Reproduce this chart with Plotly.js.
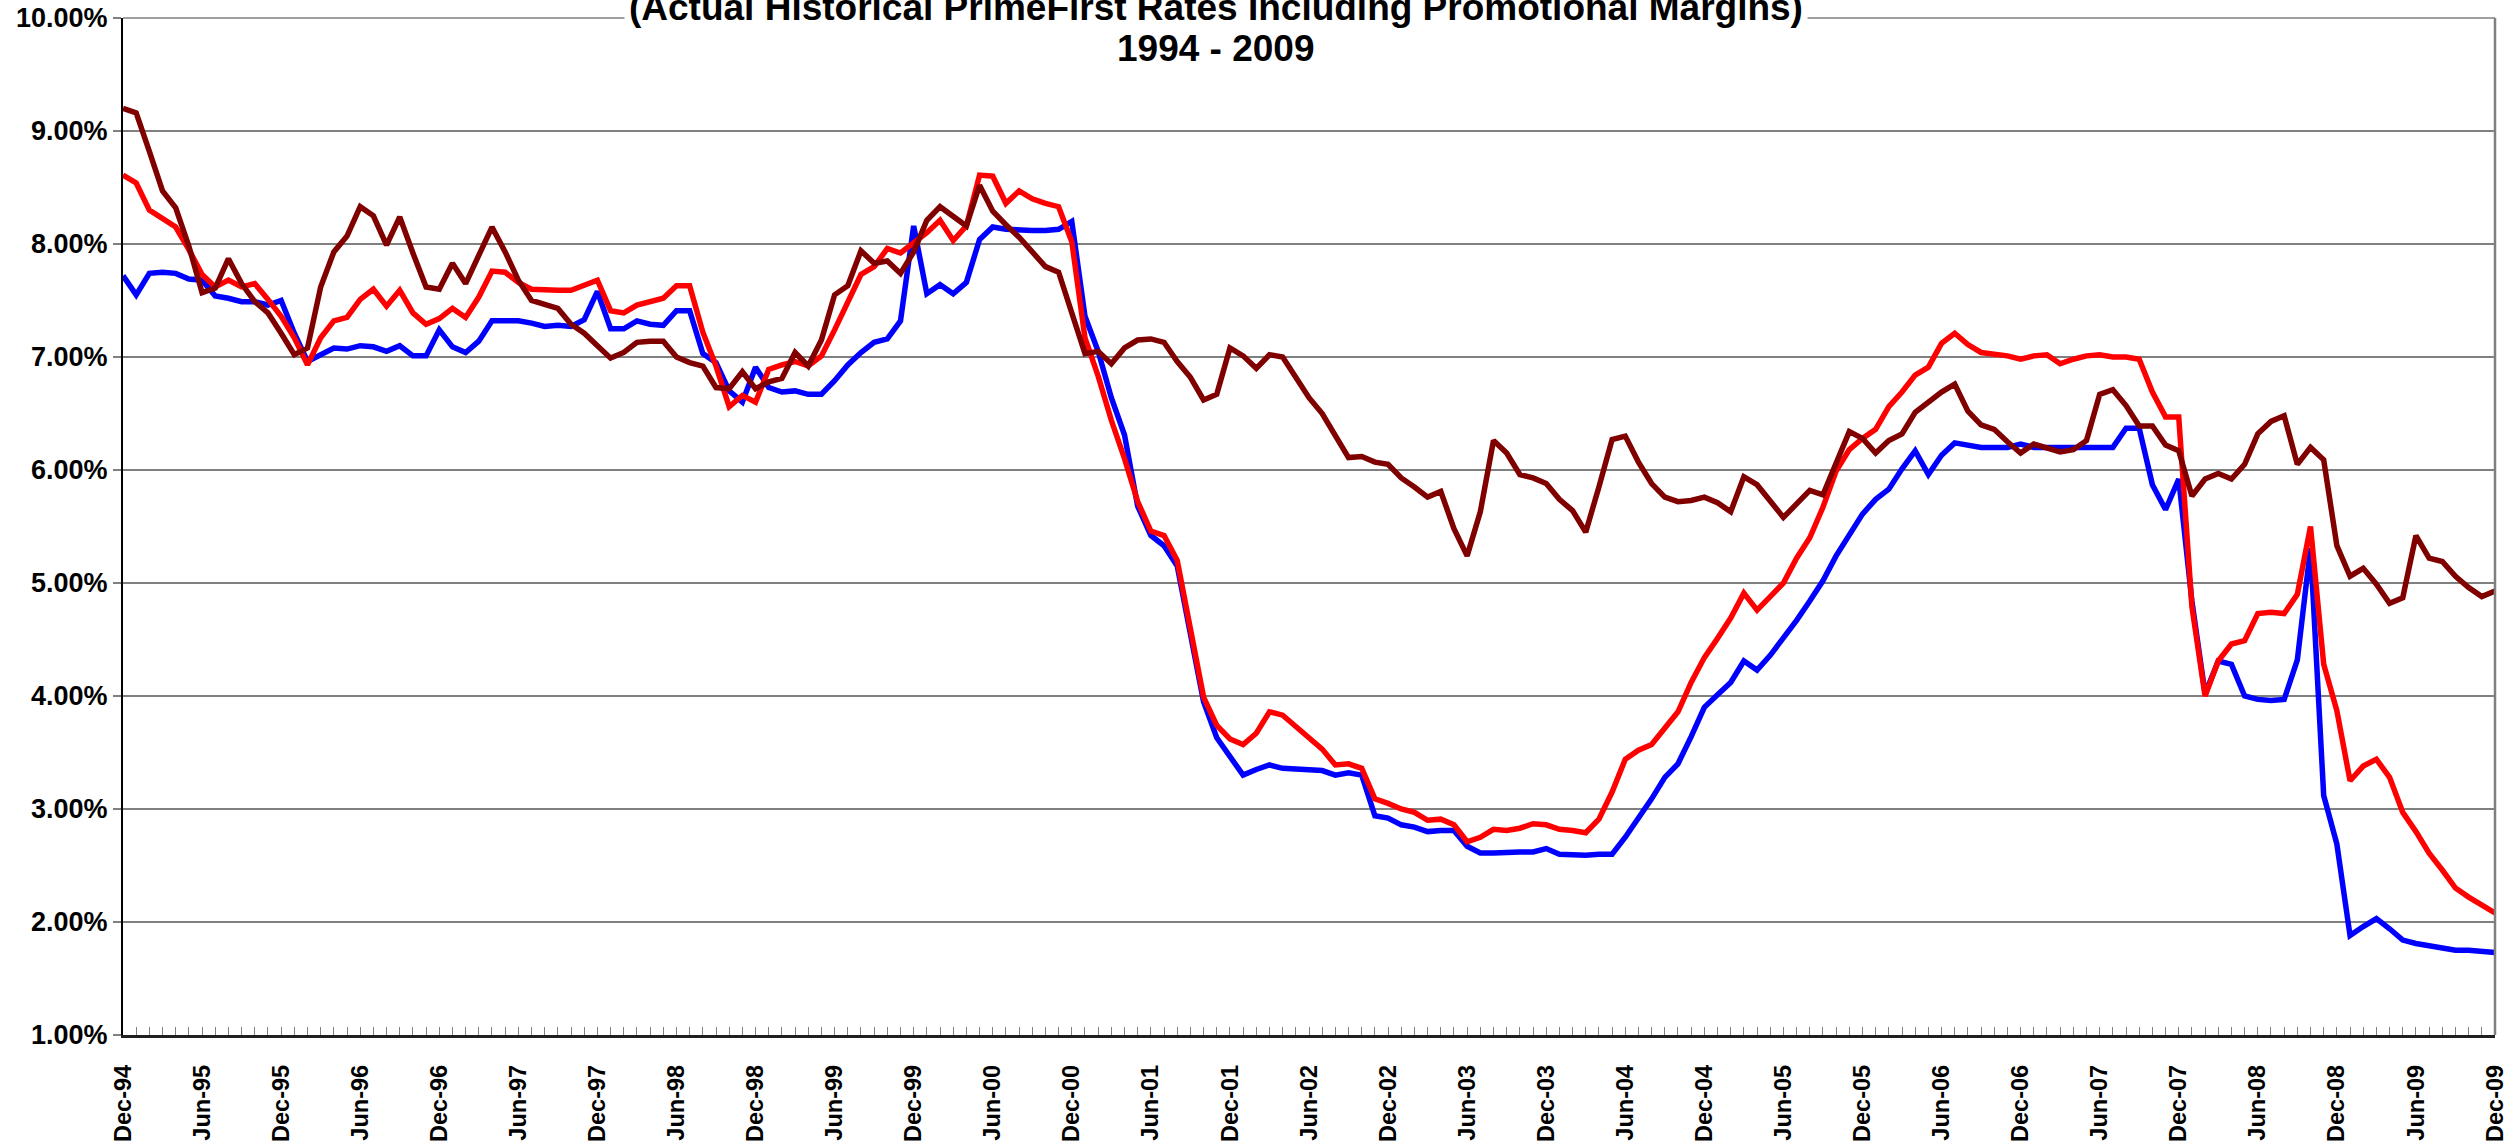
<!DOCTYPE html>
<html>
<head>
<meta charset="utf-8">
<script src="https://cdn.plot.ly/plotly-3.0.1.min.js"></script>
<style>html,body{margin:0;padding:0;background:#fff;}#chart{width:2518px;height:1146px;}</style>
</head>
<body>
<div id="chart"></div>
<script>
// Monthly categories Dec-94 .. Dec-09 (181 months)
const monthNames = ["Jan","Feb","Mar","Apr","May","Jun","Jul","Aug","Sep","Oct","Nov","Dec"];
const months = [];
for (let y = 1994; y <= 2009; y++) {
  for (let m = 0; m < 12; m++) {
    if (y === 1994 && m < 11) continue;
    months.push(monthNames[m] + "-" + String(y % 100).padStart(2, "0"));
  }
}

const seriesBlue = [
7.72,7.55,7.74,7.75,7.74,7.69,7.68,7.54,7.52,7.49,7.49,7.46,7.50,7.21,6.96,7.02,7.08,7.07,7.10,7.09,
7.05,7.10,7.01,7.01,7.24,7.09,7.04,7.14,7.32,7.32,7.32,7.30,7.27,7.28,7.27,7.33,7.58,7.25,7.25,7.32,
7.29,7.28,7.41,7.41,7.03,6.95,6.70,6.60,6.91,6.73,6.69,6.70,6.67,6.67,6.79,6.93,7.04,7.13,7.16,7.32,
8.16,7.56,7.64,7.56,7.66,8.04,8.15,8.13,8.12,8.12,8.12,8.13,8.20,7.36,7.05,6.64,6.31,5.68,5.42,5.33,
5.15,4.57,3.95,3.63,3.46,3.30,3.35,3.39,3.36,3.35,3.34,3.34,3.30,3.32,3.30,2.94,2.92,2.86,2.84,2.80,
2.81,2.81,2.67,2.61,2.61,2.62,2.62,2.62,2.65,2.60,2.59,2.59,2.60,2.60,2.75,2.91,3.09,3.28,3.40,3.64,
3.90,4.01,4.12,4.31,4.23,4.36,4.51,4.67,4.84,5.02,5.24,5.42,5.61,5.74,5.83,6.01,6.17,5.96,6.13,6.24,
6.22,6.20,6.20,6.20,6.23,6.20,6.20,6.20,6.20,6.20,6.20,6.20,6.37,6.37,5.87,5.65,5.92,4.84,4.02,4.31,
4.28,4.00,3.97,3.96,3.97,4.32,5.31,3.12,2.69,1.88,1.96,2.03,1.94,1.84,1.81,1.79,1.77,1.75,1.75,1.74,
1.73];

const seriesRed = [
8.61,8.54,8.30,8.22,8.15,7.95,7.73,7.62,7.68,7.62,7.65,7.51,7.36,7.17,6.93,7.17,7.32,7.35,7.51,7.60,
7.45,7.59,7.39,7.29,7.34,7.43,7.35,7.53,7.76,7.75,7.66,7.60,7.59,7.59,7.59,7.63,7.68,7.41,7.39,7.46,
7.49,7.52,7.63,7.63,7.22,6.92,6.56,6.66,6.60,6.89,6.93,6.96,6.92,7.01,7.24,7.49,7.73,7.80,7.96,7.92,
8.01,8.10,8.21,8.03,8.16,8.61,8.60,8.36,8.47,8.40,8.36,8.33,8.02,7.17,6.83,6.44,6.10,5.72,5.46,5.42,
5.20,4.61,3.99,3.74,3.62,3.57,3.67,3.86,3.83,3.73,3.63,3.53,3.39,3.40,3.36,3.09,3.05,3.00,2.97,2.90,
2.91,2.86,2.71,2.75,2.82,2.81,2.83,2.87,2.86,2.82,2.81,2.79,2.91,3.15,3.44,3.52,3.57,3.72,3.86,4.12,
4.34,4.51,4.69,4.91,4.76,4.88,5.00,5.22,5.40,5.67,5.99,6.18,6.28,6.36,6.56,6.69,6.84,6.91,7.12,7.21,
7.11,7.04,7.03,7.01,6.98,7.01,7.02,6.94,6.98,7.01,7.02,7.00,7.00,6.98,6.69,6.47,6.47,4.79,4.00,4.31,
4.46,4.49,4.73,4.74,4.73,4.90,5.50,4.28,3.87,3.25,3.38,3.44,3.28,2.97,2.80,2.61,2.46,2.30,2.22,2.15,
2.08];

const seriesDarkRed = [
9.20,9.16,8.82,8.47,8.32,7.98,7.57,7.61,7.87,7.65,7.49,7.39,7.21,7.02,7.08,7.62,7.93,8.07,8.33,8.25,
7.99,8.24,7.92,7.62,7.60,7.83,7.65,7.91,8.15,7.93,7.68,7.50,7.47,7.43,7.29,7.21,7.10,6.99,7.04,7.13,
7.14,7.14,7.00,6.95,6.92,6.73,6.72,6.87,6.72,6.78,6.81,7.04,6.92,7.15,7.55,7.63,7.94,7.83,7.85,7.74,
7.93,8.21,8.33,8.25,8.16,8.52,8.29,8.17,8.06,7.93,7.80,7.75,7.38,7.03,7.05,6.94,7.08,7.15,7.16,7.13,
6.96,6.82,6.62,6.67,7.08,7.01,6.90,7.02,7.00,6.81,6.64,6.50,6.30,6.11,6.12,6.07,6.05,5.93,5.85,5.76,
5.81,5.48,5.24,5.63,6.26,6.15,5.96,5.93,5.88,5.74,5.64,5.45,5.85,6.27,6.30,6.07,5.88,5.76,5.72,5.73,
5.76,5.71,5.63,5.94,5.87,5.73,5.58,5.70,5.82,5.78,6.07,6.34,6.28,6.15,6.26,6.32,6.51,6.60,6.69,6.76,
6.52,6.40,6.36,6.25,6.15,6.23,6.19,6.16,6.18,6.26,6.67,6.71,6.57,6.39,6.39,6.22,6.17,5.77,5.92,5.97,
5.92,6.05,6.32,6.43,6.48,6.05,6.20,6.09,5.33,5.06,5.13,4.99,4.82,4.87,5.42,5.22,5.19,5.06,4.96,4.88,
4.93];

const yTicks = [1,2,3,4,5,6,7,8,9,10];
const titleLines = ["(Actual Historical PrimeFirst Rates Including Promotional Margins)", "1994 - 2009"];

const FONT = "Arial, 'Liberation Sans', sans-serif";

const tickText = months.map((m, i) => (i % 6 === 0 ? m : ""));

function mk(y, color) {
  return {
    type: "scatter", mode: "lines", x: months, y: y,
    line: {color: color, width: 5.5}, hoverinfo: "x+y", showlegend: false
  };
}

const data = [mk(seriesBlue, "#0000FF"), mk(seriesRed, "#FF0000"), mk(seriesDarkRed, "#800000")];

function titleAnn(text, y) {
  return {
    xref: "paper", yref: "paper", x: 0.4608, y: y,
    xanchor: "center", yanchor: "middle",
    text: "<b>" + text + "</b>",
    showarrow: false, align: "center",
    font: {family: FONT, size: 37, color: "#000"},
    bgcolor: "#ffffff", borderpad: 4
  };
}

const layout = {
  width: 2518, height: 1146,
  margin: {l: 123, r: 23, t: 18, b: 111, pad: 0},
  paper_bgcolor: "#ffffff", plot_bgcolor: "#ffffff",
  font: {family: FONT, color: "#000"},
  showlegend: false,
  xaxis: {
    type: "category", categoryorder: "array", categoryarray: months,
    range: [0, months.length - 1],
    tickmode: "array", tickvals: months, ticktext: tickText,
    ticks: "inside", ticklen: 8, tickwidth: 1, tickcolor: "#808080",
    tickangle: -90,
    tickfont: {family: FONT, size: 23.5, color: "#000", weight: "bold"},
    ticklabelstandoff: 18,
    showgrid: false, zeroline: false,
    showline: true, linecolor: "#202020", linewidth: 2.5
  },
  yaxis: {
    range: [1, 10],
    tickmode: "array", tickvals: yTicks,
    ticktext: yTicks.map(v => v.toFixed(2) + "%"),
    ticks: "outside", ticklen: 8, tickwidth: 1.5, tickcolor: "#808080",
    tickfont: {family: FONT, size: 27, color: "#000", weight: "bold"},
    showgrid: true, gridcolor: "#808080", gridwidth: 1.5,
    zeroline: false,
    showline: true, linecolor: "#000000", linewidth: 2
  },
  shapes: [
    {type: "line", xref: "paper", yref: "paper", x0: 1, x1: 1, y0: 0, y1: 1,
     line: {color: "#808080", width: 2.5}},
    {type: "line", xref: "paper", yref: "paper", x0: 0, x1: 1, y0: 1, y1: 1,
     line: {color: "#808080", width: 1.5}, layer: "below"}
  ],
  annotations: [
    titleAnn(titleLines[0], 1.0105),
    titleAnn(titleLines[1], 0.9705)
  ]
};

Plotly.newPlot("chart", data, layout, {staticPlot: true, displayModeBar: false});
</script>
</body>
</html>
